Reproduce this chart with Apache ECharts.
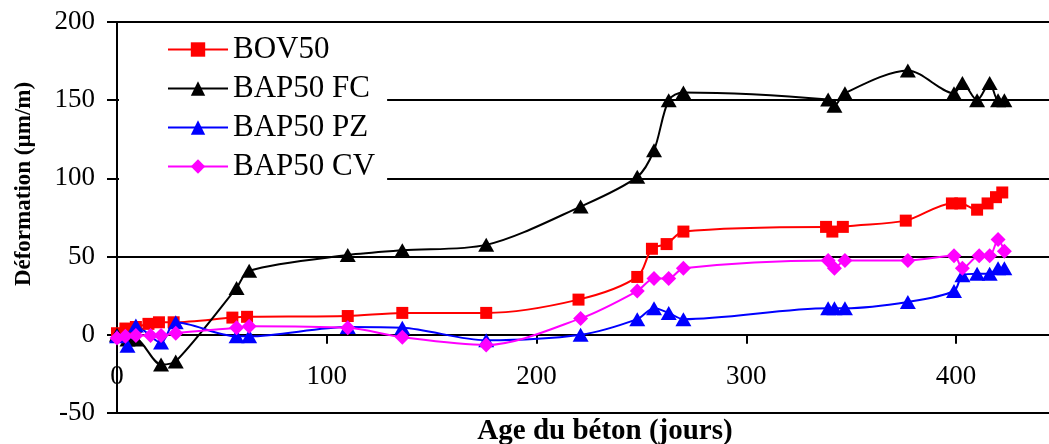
<!DOCTYPE html>
<html>
<head>
<meta charset="utf-8">
<script src="https://cdn.jsdelivr.net/npm/echarts@6/dist/echarts.min.js"></script>
<style>
html,body{margin:0;padding:0;background:#fff;}
#chart{width:1049px;height:444px;}
</style>
</head>
<body>
<div id="chart"></div>
<script>
// ---- Data ----
const seriesNames = ['BOV50', 'BAP50 FC', 'BAP50 PZ', 'BAP50 CV'];

const bovDays = [0, 4, 9, 15, 20, 27, 55, 62, 110, 136, 176, 220, 248, 255, 262, 270, 338, 341, 346, 376, 398, 402, 410, 415, 419, 422];
const bovVals = [1, 4, 5, 7, 8, 8, 11, 11.5, 12, 14, 14, 22.5, 37, 55, 58, 66, 69, 66, 69, 73, 84, 84, 80, 84, 88, 91];

const fcDays = [0, 5, 9, 21, 28, 57, 63, 110, 136, 176, 221, 248, 256, 263, 270, 339, 342, 347, 377, 399, 403, 410, 416, 420, 423];
const fcVals = [0, -3, -3, -19, -17, 30, 41, 51, 54, 57.5, 82, 101, 118, 150, 155, 150.5, 146.5, 154.5, 169, 154.5, 161, 150, 161, 150, 150];

const pzDays = [0, 5, 9, 21, 28, 57, 63, 110, 136, 176, 221, 248, 256, 263, 270, 339, 342, 347, 377, 399, 403, 410, 416, 420, 423];
const pzVals = [-1, -7, 6, -5, 8, -1, -1, 5, 4.5, -3.5, 0, 10, 17, 14, 10, 17, 17, 17, 21, 28, 38, 39, 39, 42.5, 42.5];

const cvDays = [0, 4, 9, 16, 21, 28, 57, 63, 110, 136, 176, 221, 248, 256, 263, 270, 339, 342, 347, 377, 399, 403, 411, 416, 420, 423];
const cvVals = [-2, -1, -0.5, -0.5, -0.5, 1, 4.5, 5.5, 4.5, -1.5, -6.5, 10.5, 28, 36, 36, 42.5, 47.5, 42.5, 47.5, 47.5, 50.5, 42.5, 50.5, 50.5, 61, 53.5];

const xTicks = [0, 100, 200, 300, 400];
const yTicks = [-50, 0, 50, 100, 150, 200];
const xTitle = 'Age du béton (jours)';
const yTitle = 'Déformation (µm/m)';

function zip(xs, ys) { return xs.map((x, i) => [x, ys[i]]); }

const FONT = "'Liberation Serif', 'Times New Roman', serif";

const GRID_LEFT = 117, GRID_TOP = 22, GRID_H = 391, GRID_W = 944;
const zeroOffset = -GRID_H * (0 - yTicks[0]) / (yTicks[yTicks.length - 1] - yTicks[0]);

const chart = echarts.init(document.getElementById('chart'), null, { renderer: 'canvas' });

const common = { type: 'line', smooth: 0.3, showAllSymbol: true, clip: false, animation: false, xAxisIndex: 0 };

chart.setOption({
  animation: false,
  backgroundColor: '#fff',
  textStyle: { fontFamily: FONT, color: '#000' },
  grid: { left: GRID_LEFT, top: GRID_TOP, width: GRID_W, height: GRID_H, containLabel: false, outerBoundsMode: 'none' },
  legend: {
    orient: 'vertical',
    left: 119,
    top: 25,
    padding: [9, 12, 8, 48],
    backgroundColor: '#fff',
    itemWidth: 60,
    itemHeight: 18,
    itemGap: 8,
    textStyle: { fontFamily: FONT, fontSize: 31, color: '#000', lineHeight: 31 },
    data: seriesNames
  },
  graphic: [
    {
      type: 'text', x: 24, y: 184, rotation: Math.PI / 2, z: 10,
      style: { text: yTitle, fontFamily: FONT, fontSize: 23, fontWeight: 'bold', fill: '#000', align: 'center', verticalAlign: 'middle' }
    },
    {
      type: 'text', x: 605, y: 432, z: 10,
      style: { text: xTitle, fontFamily: FONT, fontSize: 29, fontWeight: 'bold', fill: '#000', align: 'center', verticalAlign: 'middle' }
    },
    {
      // top gridline (plot-area border at the axis maximum)
      type: 'line', z: 1, silent: true,
      shape: { x1: GRID_LEFT, y1: GRID_TOP, x2: GRID_LEFT + GRID_W, y2: GRID_TOP },
      style: { stroke: '#000', lineWidth: 2 }
    }
  ],
  xAxis: [
    {
      type: 'value',
      position: 'bottom',
      offset: zeroOffset,
      min: xTicks[0],
      max: 450,
      interval: 100,
      axisLine: { onZero: false, lineStyle: { color: '#000', width: 2 } },
      axisTick: { show: true, length: 9, lineStyle: { color: '#000', width: 2 } },
      axisLabel: { fontFamily: FONT, fontSize: 27, color: '#000', margin: 29, showMaxLabel: false },
      splitLine: { show: false }
    }
  ],
  yAxis: {
    type: 'value',
    min: yTicks[0],
    max: yTicks[yTicks.length - 1],
    interval: 50,
    axisLine: { show: true, onZero: false, lineStyle: { color: '#000', width: 2 } },
    axisTick: { show: true, length: 10, lineStyle: { color: '#000', width: 2 } },
    axisLabel: { fontFamily: FONT, fontSize: 27, color: '#000', margin: 22 },
    splitLine: { show: true, showMinLine: true, showMaxLine: true, lineStyle: { color: '#000', width: 2 } }
  },
  series: [
    Object.assign({}, common, {
      name: seriesNames[0],
      data: zip(bovDays, bovVals),
      symbol: 'rect', symbolSize: 12,
      lineStyle: { color: '#ff0000', width: 2 },
      itemStyle: { color: '#ff0000' }
    }),
    Object.assign({}, common, {
      name: seriesNames[1],
      data: zip(fcDays, fcVals),
      symbol: 'triangle', symbolSize: [16, 14],
      lineStyle: { color: '#000000', width: 2 },
      itemStyle: { color: '#000000' }
    }),
    Object.assign({}, common, {
      name: seriesNames[2],
      data: zip(pzDays, pzVals),
      symbol: 'triangle', symbolSize: [16, 14],
      lineStyle: { color: '#0000ff', width: 2 },
      itemStyle: { color: '#0000ff' }
    }),
    Object.assign({}, common, {
      name: seriesNames[3],
      data: zip(cvDays, cvVals),
      symbol: 'diamond', symbolSize: 15,
      lineStyle: { color: '#ff00ff', width: 2 },
      itemStyle: { color: '#ff00ff' }
    })
  ]
});
</script>
</body>
</html>
